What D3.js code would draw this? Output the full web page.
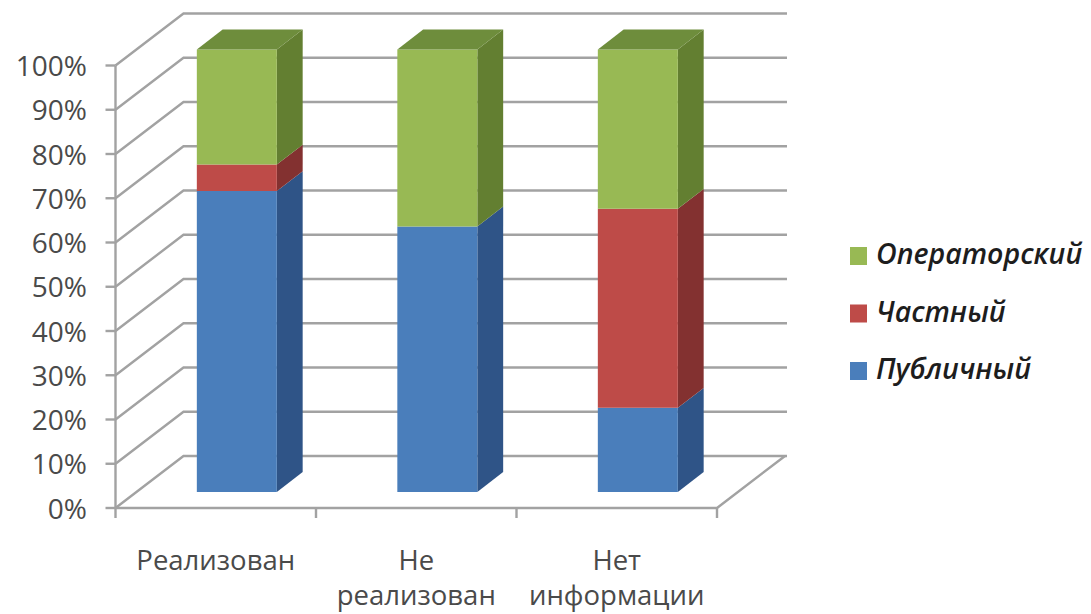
<!DOCTYPE html>
<html>
<head>
<meta charset="utf-8">
<script src="https://cdn.jsdelivr.net/npm/d3@7/dist/d3.min.js"></script>
<style>
  html, body { margin: 0; padding: 0; background: #fff; }
  svg { display: block; }
  text { font-family: "Open Sans", sans-serif; }
</style>
</head>
<body>
<svg id="chart" width="1091" height="614"></svg>
<script>
// Stacked shares per outcome, in percent
const categories = [["Реализован"], ["Не", "реализован"], ["Нет", "информации"]];
const publicShare = [68, 60, 19];
const privateShare = [6, 0, 45];
const operatorShare = [26, 40, 36];
const yTicks = [0, 10, 20, 30, 40, 50, 60, 70, 80, 90, 100];
const seriesNames = ["Публичный", "Частный", "Операторский"];
const seriesValues = [publicShare, privateShare, operatorShare];
const frontColors = ["#4a7ebb", "#be4b48", "#98b954"];
const sideColors = ["#2f5487", "#833130", "#637f31"];
const topColor = "#6e8d3c";
const legendOrder = [2, 1, 0];

const svg = d3.select("#chart");

// Oblique projection: value and category on the front plane, depth shifts both
const y = d3.scaleLinear().domain([0, 100]).range([508, 65.5]);
const x = d3.scaleBand().domain(d3.range(categories.length)).range([115.5, 717]);
const depthX = d3.scaleLinear().domain([0, 1]).range([0, 68]);
const depthY = d3.scaleLinear().domain([0, 1]).range([0, -52]);
const project = (px, v, d) => [px + depthX(d), y(v) + depthY(d)];
const poly = pts => d3.line()(pts) + "Z";

const grid = svg.append("g").attr("fill", "none").attr("stroke", "#a2a2a2").attr("stroke-width", 2.4);

// Wall gridlines, each running along the side wall and then the back wall
const wallRight = 787;
const axisLeft = x.range()[0];
const axisRight = x.range()[1];
grid.selectAll("path.wall").data(yTicks).join("path").attr("class", "wall")
  .attr("d", v => d3.line()([project(axisLeft, v, 0), project(axisLeft, v, 1), [wallRight, project(axisLeft, v, 1)[1]]]));

// Floor front edge and right edge, then the value axis
grid.append("path").attr("d", d3.line()([project(axisLeft, 0, 0), project(axisRight, 0, 0), project(axisRight, 0, 1)]));
grid.append("path").attr("d", d3.line()([project(axisLeft, 0, 0), project(axisLeft, 100, 0)]));

// Tick marks on both axes
grid.selectAll("line.ytick").data(yTicks).join("line").attr("class", "ytick")
  .attr("x1", axisLeft - 10).attr("x2", axisLeft).attr("y1", d => y(d)).attr("y2", d => y(d));
grid.selectAll("line.xtick").data(d3.range(categories.length + 1)).join("line").attr("class", "xtick")
  .attr("x1", i => axisLeft + i * x.step()).attr("x2", i => axisLeft + i * x.step())
  .attr("y1", y(0)).attr("y2", y(0) + 10);

// Bars sit between two depths inside the floor
const barFront = 0.31;
const barBack = 0.69;
const barWidth = 80;
const barLeft = i => x(i) + x.bandwidth() / 2 - barWidth / 2;

const bars = svg.append("g");
categories.forEach((_, i) => {
  const l = barLeft(i), r = l + barWidth;
  let base = 0;
  seriesValues.forEach((vals, s) => {
    const v = vals[i];
    if (v <= 0) return;
    const top = base + v;
    bars.append("path").attr("fill", sideColors[s]).attr("d", poly([
      project(r, base, barFront), project(r, base, barBack), project(r, top, barBack), project(r, top, barFront)
    ]));
    bars.append("path").attr("fill", frontColors[s]).attr("d", poly([
      project(l, base, barFront), project(r, base, barFront), project(r, top, barFront), project(l, top, barFront)
    ]));
    base = top;
  });
  bars.append("path").attr("fill", topColor).attr("d", poly([
    project(l, base, barFront), project(r, base, barFront), project(r, base, barBack), project(l, base, barBack)
  ]));
});

// Value labels
svg.append("g").selectAll("text").data(yTicks).join("text")
  .attr("x", 87).attr("y", d => y(d) + 10.5).attr("text-anchor", "end")
  .attr("font-size", 28).attr("fill", "#4a4a4a").text(d => d + "%");

// Category labels, one line per entry
const catLabels = svg.append("g").attr("text-anchor", "middle").attr("font-size", 27.5).attr("fill", "#4a4a4a");
categories.forEach((lines, i) => {
  lines.forEach((line, j) => {
    catLabels.append("text").attr("x", x(i) + x.bandwidth() / 2).attr("y", 570 + j * 35).text(line);
  });
});

// Legend
const legendY = d3.scalePoint().domain(legendOrder).range([256, 371]);
const legend = svg.append("g").selectAll("g").data(legendOrder).join("g")
  .attr("transform", s => `translate(850,${legendY(s)})`);
legend.append("rect").attr("y", -9).attr("width", 17).attr("height", 18).attr("fill", s => frontColors[s]);
legend.append("text").attr("x", 26).attr("y", 8)
  .attr("font-size", 28.5).attr("font-style", "italic").attr("font-weight", 600).attr("fill", "#1d1d1d")
  .text(s => seriesNames[s]);
</script>
</body>
</html>
